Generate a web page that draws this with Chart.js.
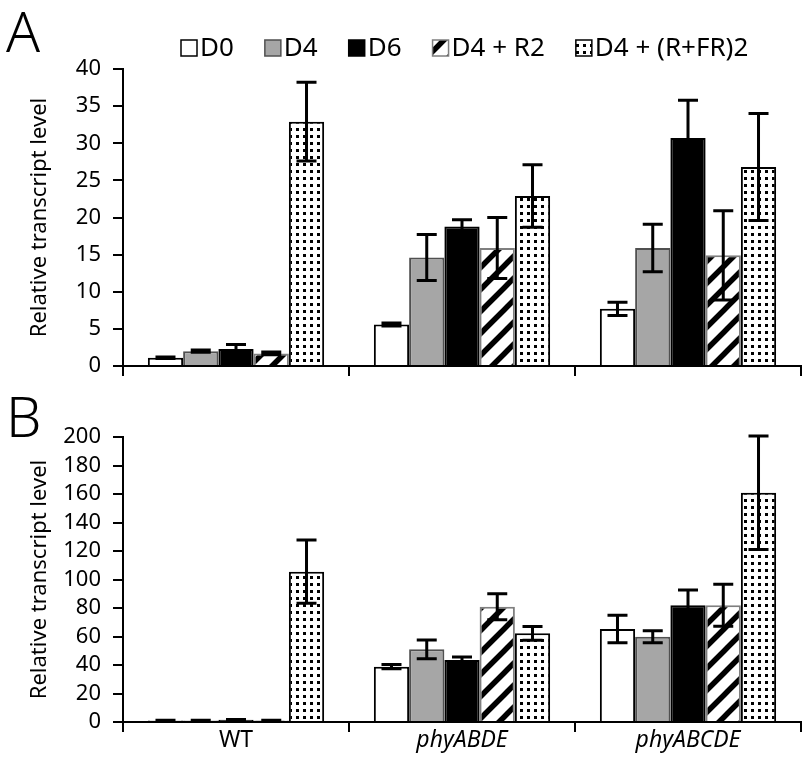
<!DOCTYPE html>
<html>
<head>
<meta charset="utf-8">
<script src="https://cdn.jsdelivr.net/npm/chart.js@4.4.0/dist/chart.umd.min.js"></script>
<style>
html, body { margin:0; padding:0; background:#fff; }
#wrap { position:relative; width:805px; height:765px; }
.panel { position:absolute; left:0; width:805px; }
</style>
</head>
<body>
<div id="wrap">
  <div class="panel" style="top:0;height:391px;z-index:1"><canvas id="chartA" width="805" height="391"></canvas></div>
  <div class="panel" style="top:385px;height:380px;z-index:2"><canvas id="chartB" width="805" height="380"></canvas></div>
</div>
<script>
// categories and series
var groups = ['WT', 'phyABDE', 'phyABCDE'];
var seriesNames = ['D0', 'D4', 'D6', 'D4 + R2', 'D4 + (R+FR)2'];

// panel A values (mean, error)
var a_D0 = [1.1, 5.6, 7.7];      var a_D0_err = [0.1, 0.2, 0.9];
var a_D4 = [2.0, 14.6, 15.9];    var a_D4_err = [0.15, 3.1, 3.2];
var a_D6 = [2.3, 18.8, 30.7];    var a_D6_err = [0.6, 0.9, 5.1];
var a_R2 = [1.7, 15.9, 14.9];    var a_R2_err = [0.2, 4.1, 6.0];
var a_RFR = [32.9, 22.9, 26.8];  var a_RFR_err = [5.3, 4.2, 7.2];

// panel B values (mean, error)
var b_D0 = [1.0, 38.8, 65.3];    var b_D0_err = [0.2, 1.5, 9.6];
var b_D4 = [1.0, 51.0, 59.9];    var b_D4_err = [0.2, 6.6, 4.2];
var b_D6 = [1.5, 43.5, 81.9];    var b_D6_err = [0.2, 2.1, 10.7];
var b_R2 = [1.0, 80.9, 81.9];    var b_R2_err = [0.2, 9.1, 14.7];
var b_RFR = [105.5, 62.2, 160.9]; var b_RFR_err = [22.2, 4.9, 39.8];

// y axis ranges
var a_max = 40, a_step = 5;
var b_max = 200, b_step = 20;

var FONT = "'Noto Sans', sans-serif";
Chart.defaults.font.family = FONT;
Chart.defaults.color = '#000';

function hatchPattern() {
    var s = 22;
    var c = document.createElement('canvas');
    c.width = s; c.height = s;
    var g = c.getContext('2d');
    g.fillStyle = '#fff';
    g.fillRect(0, 0, s, s);
    g.strokeStyle = '#000';
    g.lineWidth = 5.5;
    g.beginPath();
    g.moveTo(0, s); g.lineTo(s, 0);
    g.moveTo(-s/2, s/2); g.lineTo(s/2, -s/2);
    g.moveTo(s/2, s*1.5); g.lineTo(s*1.5, s/2);
    g.stroke();
    return g.createPattern(c, 'repeat');
}

function dotPattern() {
    var s = 7;
    var c = document.createElement('canvas');
    c.width = s; c.height = s;
    var g = c.getContext('2d');
    g.fillStyle = '#fff';
    g.fillRect(0, 0, s, s);
    g.fillStyle = '#000';
    g.fillRect(2, 2, 3, 3);
    return g.createPattern(c, 'repeat');
}

var hatch = hatchPattern();
var dots = dotPattern();

function makeDatasets(vals, errs) {
    var fills = ['#ffffff', '#a6a6a6', '#000000', hatch, dots];
    var borders = ['#000000', '#505050', '#000000', '#7f7f7f', '#000000'];
    var out = [];
    for (var i = 0; i < seriesNames.length; i++) {
        out.push({
            label: seriesNames[i],
            data: vals[i],
            errors: errs[i],
            backgroundColor: fills[i],
            borderColor: borders[i],
            borderWidth: 2,
            categoryPercentage: 0.78,
            barPercentage: 1.0
        });
    }
    return out;
}

var errorBars = {
    id: 'errorBars',
    afterDatasetsDraw: function(chart) {
        var ctx = chart.ctx, y = chart.scales.y;
        chart.data.datasets.forEach(function(ds, i) {
            var meta = chart.getDatasetMeta(i);
            meta.data.forEach(function(bar, j) {
                var v = ds.data[j], e = ds.errors[j];
                var top = y.getPixelForValue(v + e), bot = y.getPixelForValue(Math.max(0, v - e));
                ctx.save();
                ctx.strokeStyle = '#000';
                ctx.lineWidth = 3;
                ctx.beginPath();
                ctx.moveTo(bar.x, top); ctx.lineTo(bar.x, bot);
                ctx.moveTo(bar.x - 10, top); ctx.lineTo(bar.x + 10, top);
                ctx.moveTo(bar.x - 10, bot); ctx.lineTo(bar.x + 10, bot);
                ctx.stroke();
                ctx.restore();
            });
        });
    }
};

var panelLetter = {
    id: 'panelLetter',
    afterDraw: function(chart, args, opts) {
        var ctx = chart.ctx;
        ctx.save();
        ctx.fillStyle = '#000';
        ctx.font = "300 56px " + FONT;
        ctx.textBaseline = 'alphabetic';
        ctx.fillText(opts.text, 6, 52);
        ctx.restore();
    }
};

var boxLegend = {
    id: 'boxLegend',
    afterDraw: function(chart, args, opts) {
        if (!opts.show) return;
        var ctx = chart.ctx;
        var x = 181, yc = 48, box = 16;
        ctx.save();
        ctx.font = "26px " + FONT;
        ctx.textBaseline = 'middle';
        chart.data.datasets.forEach(function(ds) {
            ctx.fillStyle = ds.backgroundColor;
            ctx.fillRect(x, yc - box/2, box, box);
            ctx.strokeStyle = ds.borderColor;
            ctx.lineWidth = 1.5;
            ctx.strokeRect(x, yc - box/2, box, box);
            ctx.fillStyle = '#000';
            ctx.fillText(ds.label, x + box + 3, yc + 1);
            x += box + 3 + ctx.measureText(ds.label).width + 31;
        });
        ctx.restore();
    }
};

function buildChart(canvasId, datasets, yMax, yStep, opts) {
    return new Chart(document.getElementById(canvasId), {
        type: 'bar',
        data: { labels: groups, datasets: datasets },
        plugins: [errorBars, panelLetter, boxLegend],
        options: {
            responsive: false,
            animation: false,
            layout: { autoPadding: false, padding: { top: opts.top, left: 0, right: 4, bottom: 0 } },
            plugins: {
                legend: { display: false },
                tooltip: { enabled: false },
                panelLetter: { text: opts.letter },
                boxLegend: { show: opts.legend }
            },
            scales: {
                x: {
                    grid: { display: true, drawOnChartArea: false, drawTicks: true, tickLength: 10, color: '#000', lineWidth: 2, offset: true },
                    border: { display: true, color: '#000', width: 2 },
                    ticks: {
                        display: opts.xLabels,
                        padding: -5,
                        color: '#000',
                        font: function(c) {
                            return { family: FONT, size: 23, weight: 'normal', lineHeight: 1.2,
                                     style: c.index > 0 ? 'italic' : 'normal' };
                        }
                    },
                    afterFit: function(s) { s.height = opts.xHeight; }
                },
                y: {
                    min: 0, max: yMax,
                    ticks: { stepSize: yStep, autoSkip: false, padding: 12, color: '#000', font: { size: 22, lineHeight: 1 } },
                    grid: { display: true, drawOnChartArea: false, drawTicks: true, tickLength: 10, color: '#000', lineWidth: 2 },
                    border: { display: true, color: '#000', width: 2 },
                    title: { display: true, text: 'Relative transcript level', color: '#000', font: { size: 22 }, padding: { top: 27, bottom: 0 } },
                    afterFit: function(s) { s.width = 123; }
                }
            }
        }
    });
}

buildChart('chartA',
    makeDatasets([a_D0, a_D4, a_D6, a_R2, a_RFR], [a_D0_err, a_D4_err, a_D6_err, a_R2_err, a_RFR_err]),
    a_max, a_step, { top: 69, letter: 'A', legend: true, xLabels: false, xHeight: 25 });

buildChart('chartB',
    makeDatasets([b_D0, b_D4, b_D6, b_R2, b_RFR], [b_D0_err, b_D4_err, b_D6_err, b_R2_err, b_RFR_err]),
    b_max, b_step, { top: 52, letter: 'B', legend: false, xLabels: true, xHeight: 43 });
</script>
</body>
</html>
